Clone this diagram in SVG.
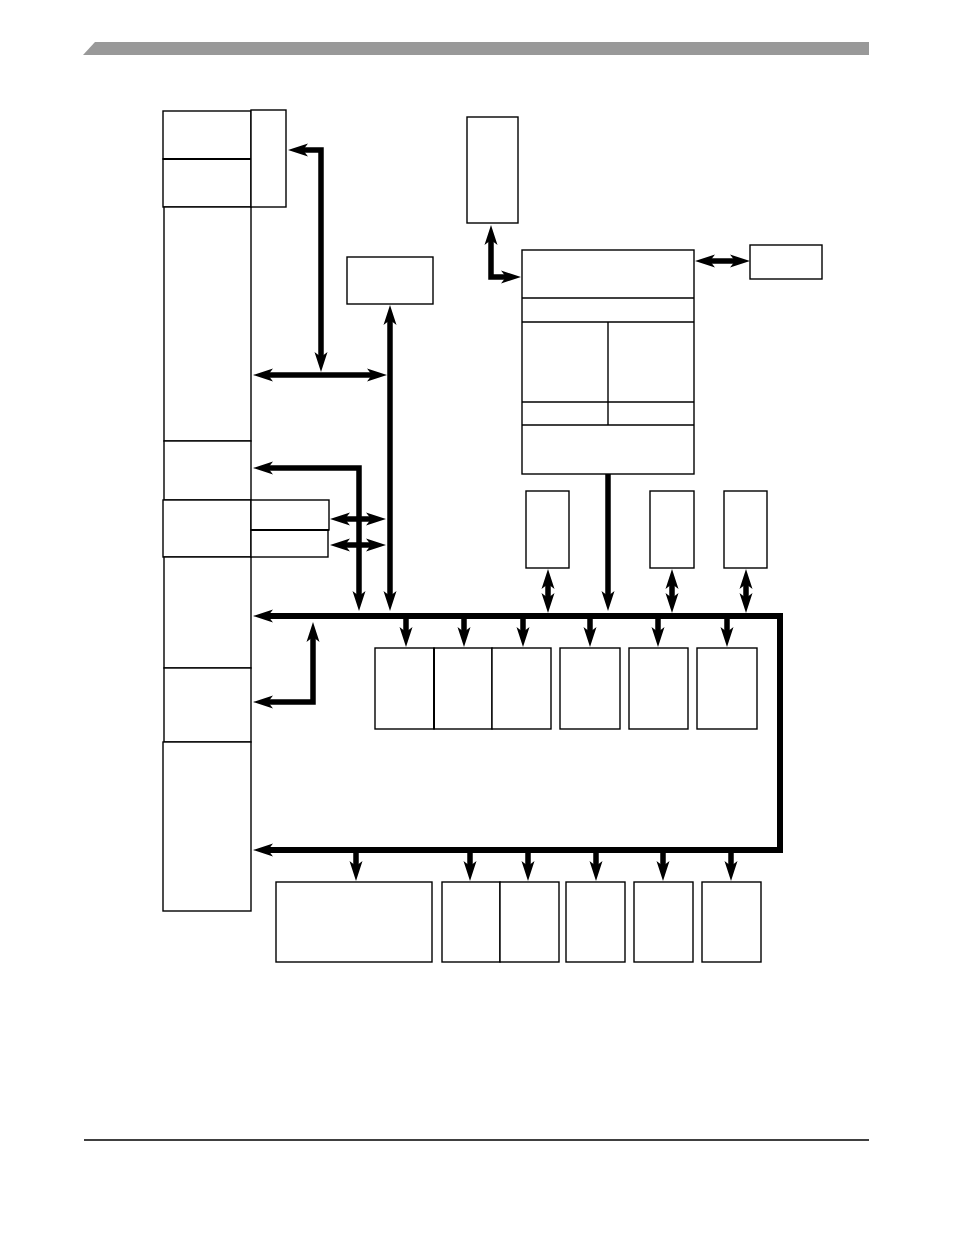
<svg xmlns="http://www.w3.org/2000/svg" width="954" height="1235" viewBox="0 0 954 1235">
<style>
.box{fill:#fff;stroke:#000;stroke-width:1.4}
.div{stroke:#000;stroke-width:1.4;fill:none}
.bus{fill:none;stroke:#000;stroke-width:6;stroke-linejoin:miter;stroke-linecap:butt}
.arr{fill:none;stroke:#000;stroke-width:5.5;stroke-linejoin:miter;stroke-linecap:butt}
</style>
<defs>
<marker id="ah" markerUnits="userSpaceOnUse" markerWidth="22" markerHeight="16" viewBox="0 -8 22 16" refX="5" refY="0" orient="auto-start-reverse">
<path d="M20,0 L0,-6.5 L5,0 L0,6.5 Z" fill="#000"/>
</marker>
</defs>
<rect width="954" height="1235" fill="#fff"/>
<polygon points="95,42 869,42 869,55 83,55" fill="#999999"/>
<line x1="84" y1="1140" x2="869" y2="1140" stroke="#000" stroke-width="1.5"/>

<g id="left-column">
<rect id="L1" class="box" x="163" y="111" width="88" height="48"/>
<rect id="L2" class="box" x="163" y="159" width="88" height="48"/>
<line x1="163" y1="159" x2="251" y2="159" stroke="#000" stroke-width="2.2"/>
<rect id="L3" class="box" x="164" y="207" width="87" height="234"/>
<rect id="L4" class="box" x="164" y="441" width="87" height="59"/>
<rect id="L5" class="box" x="163" y="500" width="88" height="57"/>
<rect id="L6" class="box" x="164" y="557" width="87" height="111"/>
<rect id="L7" class="box" x="164" y="668" width="87" height="74"/>
<rect id="L8" class="box" x="163" y="742" width="88" height="169"/>
</g>
<g id="narrow-right"><rect class="box" x="251" y="110" width="35" height="97"/></g>
<g id="sub1"><rect class="box" x="251" y="500" width="78" height="30"/></g>
<g id="sub2"><rect class="box" x="251" y="530" width="77" height="27"/><line x1="251" y1="530" x2="329" y2="530" stroke="#000" stroke-width="2.2"/></g>
<g id="boxM"><rect class="box" x="347" y="257" width="86" height="47"/></g>
<g id="boxT"><rect class="box" x="467" y="117" width="51" height="106"/></g>
<g id="boxB">
<rect class="box" x="522" y="250" width="172" height="224"/>
<line class="div" x1="522" y1="298" x2="694" y2="298"/>
<line class="div" x1="522" y1="322" x2="694" y2="322"/>
<line class="div" x1="522" y1="402" x2="694" y2="402"/>
<line class="div" x1="522" y1="425" x2="694" y2="425"/>
<line class="div" x1="608" y1="322" x2="608" y2="425"/>
</g>
<g id="boxR"><rect class="box" x="750" y="245" width="72" height="34"/></g>
<g id="upper-small">
<rect id="U1" class="box" x="526" y="491" width="43" height="77"/>
<rect id="U2" class="box" x="650" y="491" width="44" height="77"/>
<rect id="U3" class="box" x="724" y="491" width="43" height="77"/>
</g>
<g id="row1">
<rect id="R1a" class="box" x="375" y="648" width="59" height="81"/>
<rect id="R1b" class="box" x="434" y="648" width="58" height="81"/>
<rect id="R1c" class="box" x="492" y="648" width="59" height="81"/>
<rect id="R1d" class="box" x="560" y="648" width="60" height="81"/>
<rect id="R1e" class="box" x="629" y="648" width="59" height="81"/>
<rect id="R1f" class="box" x="697" y="648" width="60" height="81"/>
<line x1="434" y1="648" x2="434" y2="729" stroke="#000" stroke-width="2"/>
</g>
<g id="row2">
<rect id="R2a" class="box" x="276" y="882" width="156" height="80"/>
<rect id="R2b" class="box" x="442" y="882" width="58" height="80"/>
<rect id="R2c" class="box" x="500" y="882" width="59" height="80"/>
<rect id="R2d" class="box" x="566" y="882" width="59" height="80"/>
<rect id="R2e" class="box" x="634" y="882" width="59" height="80"/>
<rect id="R2f" class="box" x="702" y="882" width="59" height="80"/>
</g>

<g id="connectors">
<path class="bus" d="M268,616 L780,616 L780,850 L268,850" marker-start="url(#ah)" marker-end="url(#ah)"/>
<path class="arr" d="M321,357 L321,150 L303,150" marker-start="url(#ah)" marker-end="url(#ah)"/>
<path class="arr" d="M268,375 L372,375" marker-start="url(#ah)" marker-end="url(#ah)"/>
<path class="arr" d="M390,320 L390,596" marker-start="url(#ah)" marker-end="url(#ah)"/>
<path class="arr" d="M268,468 L359,468 L359,596" marker-start="url(#ah)" marker-end="url(#ah)"/>
<path class="arr" d="M345,519 L371,519" marker-start="url(#ah)" marker-end="url(#ah)"/>
<path class="arr" d="M345,545 L371,545" marker-start="url(#ah)" marker-end="url(#ah)"/>
<path class="arr" d="M313,637 L313,702 L268,702" marker-start="url(#ah)" marker-end="url(#ah)"/>
<path class="arr" d="M491,240 L491,277 L506,277" marker-start="url(#ah)" marker-end="url(#ah)"/>
<path class="arr" d="M710,261 L735,261" marker-start="url(#ah)" marker-end="url(#ah)"/>
<path class="arr" d="M608,474 L608,596" marker-end="url(#ah)"/>
<path class="arr" d="M548,584 L548,598" marker-start="url(#ah)" marker-end="url(#ah)"/>
<path class="arr" d="M672,584 L672,598" marker-start="url(#ah)" marker-end="url(#ah)"/>
<path class="arr" d="M746,584 L746,598" marker-start="url(#ah)" marker-end="url(#ah)"/>
<path class="arr" d="M406,616 L406,632" marker-end="url(#ah)"/>
<path class="arr" d="M464,616 L464,632" marker-end="url(#ah)"/>
<path class="arr" d="M523,616 L523,632" marker-end="url(#ah)"/>
<path class="arr" d="M590,616 L590,632" marker-end="url(#ah)"/>
<path class="arr" d="M658,616 L658,632" marker-end="url(#ah)"/>
<path class="arr" d="M727,616 L727,632" marker-end="url(#ah)"/>
<path class="arr" d="M356,850 L356,866" marker-end="url(#ah)"/>
<path class="arr" d="M470,850 L470,866" marker-end="url(#ah)"/>
<path class="arr" d="M528,850 L528,866" marker-end="url(#ah)"/>
<path class="arr" d="M596,850 L596,866" marker-end="url(#ah)"/>
<path class="arr" d="M663,850 L663,866" marker-end="url(#ah)"/>
<path class="arr" d="M731,850 L731,866" marker-end="url(#ah)"/>
</g>
</svg>
